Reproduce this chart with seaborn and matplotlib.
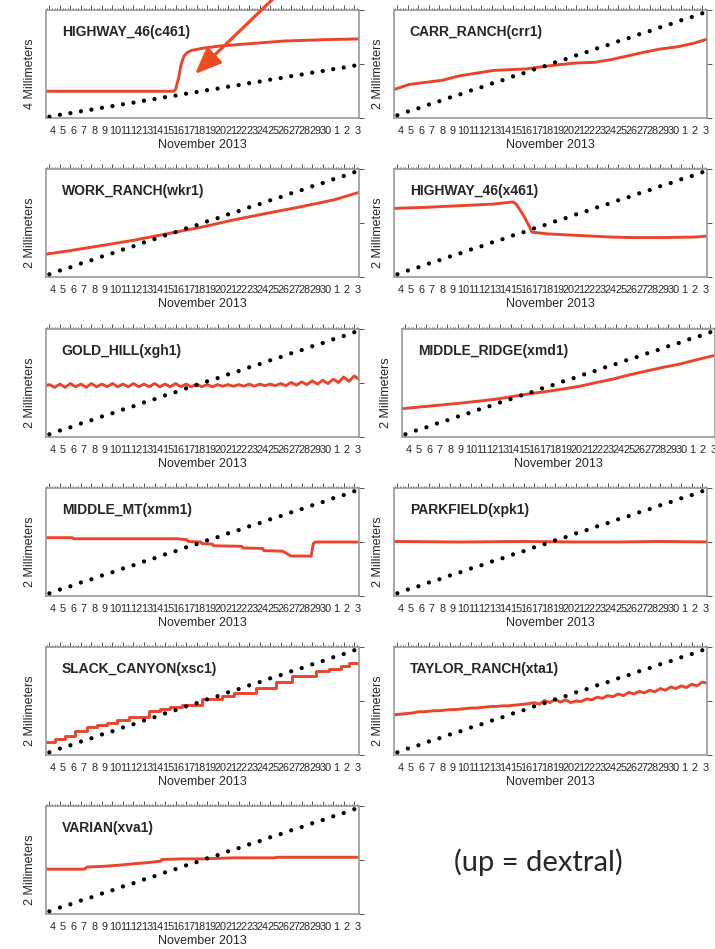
import matplotlib
matplotlib.use('Agg')
import matplotlib.pyplot as plt
import matplotlib.transforms as mtransforms
from matplotlib.patches import FancyArrowPatch
from matplotlib.ticker import FixedLocator, MultipleLocator
import seaborn as sns

# estilo
sns.set_style('white')
plt.rcParams['font.family'] = ['Liberation Sans', 'DejaVu Sans']

RED = '#eb442c'
ARROW = '#f04a22'

# dias depois de 4 nov 2013 (pontos da taxa de referencia, em mm)
ref_days = [0, 1, 2, 3, 4, 5, 6, 7, 8, 9, 10, 11, 12, 13, 14,
            15, 16, 17, 18, 19, 20, 21, 22, 23, 24, 25, 26, 27, 28, 29]
ref_mm = [0.05, 0.12, 0.18, 0.25, 0.31, 0.38, 0.44, 0.51, 0.57, 0.64,
          0.70, 0.77, 0.83, 0.90, 0.96, 1.03, 1.09, 1.16, 1.22, 1.29,
          1.35, 1.42, 1.48, 1.55, 1.61, 1.68, 1.74, 1.81, 1.87, 1.94]
day_labels = ['4', '5', '6', '7', '8', '9', '10', '11', '12', '13', '14',
              '15', '16', '17', '18', '19', '20', '21', '22', '23', '24',
              '25', '26', '27', '28', '29', '30', '1', '2', '3']

half_days = [-0.5, 0.0, 0.5, 1.0, 1.5, 2.0, 2.5, 3.0, 3.5, 4.0, 4.5, 5.0, 5.5,
             6.0, 6.5, 7.0, 7.5, 8.0, 8.5, 9.0, 9.5, 10.0, 10.5, 11.0, 11.5,
             12.0, 12.5, 13.0, 13.5, 14.0, 14.5, 15.0, 15.5, 16.0, 16.5,
             17.0, 17.5, 18.0, 18.5, 19.0, 19.5, 20.0, 20.5, 21.0, 21.5,
             22.0, 22.5, 23.0, 23.5, 24.0, 24.5, 25.0, 25.5, 26.0, 26.5,
             27.0, 27.5, 28.0, 28.5, 29.0, 29.5]

# series de cada creepmeter (dias, mm)
c461_t = [-0.4, 11.8, 12.0, 12.3, 12.5, 12.8, 13.1, 13.5, 14.5, 16.3, 19.0, 22.3, 26.0, 29.5]
c461_mm = [0.99, 0.99, 1.05, 1.50, 1.93, 2.29, 2.42, 2.50, 2.58, 2.67, 2.75, 2.85, 2.90, 2.93]

crr1_t = [-0.4, 1.1, 4.3, 5.9, 9.1, 12.3, 14.2, 15.5, 17.1, 18.7, 20.3, 21.9, 23.5, 25.1, 26.7, 28.3, 29.6]
crr1_mm = [0.52, 0.62, 0.70, 0.78, 0.88, 0.91, 0.96, 0.99, 1.02, 1.03, 1.08, 1.15, 1.22, 1.28, 1.32, 1.39, 1.47]

wkr1_t = [-0.4, 1.7, 4.9, 8.0, 9.6, 12.5, 14.4, 17.6, 20.7, 23.9, 27.1, 29.5]
wkr1_mm = [0.42, 0.48, 0.58, 0.68, 0.74, 0.85, 0.92, 1.06, 1.18, 1.30, 1.43, 1.57]

x461_t = [-0.4, 2.7, 5.9, 9.1, 11.0, 11.3, 12.0, 12.6, 12.8, 14.2, 17.1, 20.3, 22.5, 25.1, 28.3, 29.6]
x461_mm = [1.27, 1.29, 1.32, 1.35, 1.39, 1.35, 1.14, 0.92, 0.83, 0.80, 0.77, 0.74, 0.73, 0.73, 0.74, 0.76]

xgh1_mm = [0.94,
           0.97, 0.92, 0.98, 0.92, 0.99, 0.93, 0.98, 0.92, 0.99, 0.93,
           0.98, 0.93, 0.99, 0.93, 0.98, 0.93, 0.99, 0.93, 0.98, 0.93,
           0.99, 0.93, 0.98, 0.93, 0.99, 0.93, 0.98, 0.93, 0.98, 0.93,
           0.97, 0.93, 0.97, 0.94, 0.97, 0.94, 0.97, 0.94, 0.98, 0.94,
           0.98, 0.95, 0.98, 0.95, 0.99, 0.95, 1.01, 0.96, 1.02, 0.97,
           1.04, 0.98, 1.05, 0.99, 1.07, 1.01, 1.11, 1.03, 1.13, 1.06]

xmd1_t = [-0.4, 0.0, 5.4, 8.6, 11.8, 13.7, 15.0, 16.6, 18.2, 19.7, 21.3, 22.9, 24.5, 26.1, 27.7, 29.6]
xmd1_mm = [0.52, 0.53, 0.63, 0.70, 0.80, 0.85, 0.89, 0.94, 1.01, 1.07, 1.15, 1.22, 1.29, 1.35, 1.43, 1.52]

xmm1_t = [-0.4, 2.2, 2.3, 12.2, 13.1, 13.2, 14.4, 14.5, 15.5, 15.6, 18.3, 18.4,
          20.3, 20.4, 22.2, 22.8, 23.0, 24.9, 25.1, 25.3, 29.6]
xmm1_mm = [1.08, 1.08, 1.06, 1.06, 1.04, 1.01, 1.00, 0.97, 0.96, 0.93, 0.92, 0.89,
           0.88, 0.84, 0.83, 0.76, 0.74, 0.74, 0.97, 1.00, 1.00]

xpk1_t = [-0.4, 6.0, 12.0, 17.0, 21.0, 25.0, 29.6]
xpk1_mm = [1.01, 1.00, 1.01, 1.00, 1.00, 1.01, 1.00]

xsc1_t = [-0.4, 0.57, 1.52, 2.48, 3.59, 4.54, 5.49, 6.44, 7.56, 9.46, 10.57, 11.52,
          12.63, 14.54, 16.44, 17.56, 19.62, 21.52, 23.11, 25.33, 26.60, 27.71, 28.51, 29.6]
xsc1_mm = [0.24, 0.30, 0.36, 0.44, 0.52, 0.55, 0.59, 0.65, 0.70, 0.82, 0.86, 0.89,
           0.93, 1.03, 1.10, 1.14, 1.24, 1.36, 1.47, 1.56, 1.59, 1.64, 1.70, 1.70]

xta1_mm = [0.74,
           0.75, 0.76, 0.77, 0.78, 0.80, 0.80, 0.81, 0.82, 0.82, 0.83,
           0.84, 0.84, 0.85, 0.86, 0.87, 0.87, 0.88, 0.89, 0.90, 0.90,
           0.91, 0.91, 0.92, 0.93, 0.94, 0.95, 0.97, 0.94, 1.01, 0.97,
           1.03, 0.98, 1.02, 0.97, 1.00, 0.99, 1.04, 1.02, 1.07, 1.05,
           1.10, 1.08, 1.13, 1.10, 1.16, 1.13, 1.18, 1.15, 1.20, 1.17,
           1.23, 1.20, 1.26, 1.23, 1.28, 1.25, 1.31, 1.28, 1.35, 1.33]

xva1_t = [-0.4, 3.3, 3.6, 4.9, 6.4, 8.0, 9.3, 10.6, 10.7, 12.5, 12.8, 14.4, 17.6, 21.4, 21.7, 29.6]
xva1_mm = [0.83, 0.83, 0.87, 0.88, 0.90, 0.93, 0.95, 0.98, 1.01, 1.02, 1.02, 1.02, 1.04, 1.04, 1.05, 1.05]

# (titulo, tempos, valores, escala mm, linha, coluna, degraus?)
panels = [
    ('HIGHWAY_46(c461)', c461_t, c461_mm, 4, 0, 0, False),
    ('CARR_RANCH(crr1)', crr1_t, crr1_mm, 2, 0, 1, False),
    ('WORK_RANCH(wkr1)', wkr1_t, wkr1_mm, 2, 1, 0, False),
    ('HIGHWAY_46(x461)', x461_t, x461_mm, 2, 1, 1, False),
    ('GOLD_HILL(xgh1)', half_days, xgh1_mm, 2, 2, 0, False),
    ('MIDDLE_RIDGE(xmd1)', xmd1_t, xmd1_mm, 2, 2, 1, False),
    ('MIDDLE_MT(xmm1)', xmm1_t, xmm1_mm, 2, 3, 0, False),
    ('PARKFIELD(xpk1)', xpk1_t, xpk1_mm, 2, 3, 1, False),
    ('SLACK_CANYON(xsc1)', xsc1_t, xsc1_mm, 2, 4, 0, True),
    ('TAYLOR_RANCH(xta1)', half_days, xta1_mm, 2, 4, 1, False),
    ('VARIAN(xva1)', xva1_t, xva1_mm, 2, 5, 0, False),
]

W, H = 715, 949
row_tops = [10, 169, 329, 488, 647, 806]
col_lefts = [46, 394]
ax_w, ax_h = 313, 108

fig = plt.figure(figsize=(W / 100, H / 100), dpi=100)

for name, t, v, scale, row, col, steps in panels:
    left = col_lefts[col] + (8 if name.startswith('MIDDLE_RIDGE') else 0)
    ax = fig.add_axes([left / W, 1 - (row_tops[row] + ax_h) / H, ax_w / W, ax_h / H])

    sns.lineplot(x=t, y=v, ax=ax, color=RED, linewidth=2.1, estimator=None,
                 sort=False, drawstyle='steps-post' if steps else 'default')
    sns.scatterplot(x=ref_days, y=ref_mm, ax=ax, color='black', s=9,
                    edgecolor='none', zorder=3)

    ax.set_xlim(-0.32, 29.45)
    ax.set_ylim(0, scale)

    ax.xaxis.set_major_locator(FixedLocator(ref_days))
    ax.xaxis.set_minor_locator(MultipleLocator(0.25))
    ax.set_xticklabels(day_labels)
    ax.set_yticks([0, scale / 2, scale])
    ax.set_yticklabels([])
    ax.tick_params(axis='both', which='both', direction='out', top=True, right=True,
                   color='#333333', width=0.6, labelsize=7.8, pad=2.5)
    ax.tick_params(which='major', length=3.5)
    ax.tick_params(which='minor', length=1.8)
    # rotulos dos dias um pouco para a direita
    for lab in ax.get_xticklabels():
        lab.set_transform(lab.get_transform() +
                          mtransforms.ScaledTranslation(3 / 100, 0, fig.dpi_scale_trans))

    for sp in ax.spines.values():
        sp.set_color('#9a9a9a')
        sp.set_linewidth(1.2)

    ax.set_xlabel('November 2013', fontsize=9)
    ax.set_ylabel(f'{scale} Millimeters', fontsize=9)
    ax.xaxis.set_label_coords(0.5, -0.19)
    ax.yaxis.set_label_coords(-0.032, 0.41)

    ax.text(0.05, 0.80, name, transform=ax.transAxes, fontsize=10,
            fontweight='bold', va='center', ha='left')

# texto da legenda
fig.text(538 / W, 1 - 862 / H, '(up = dextral)', fontsize=21, family=['Lato', 'DejaVu Sans'],
         ha='center', va='center')

# seta apontando para o degrau de c461
fig.add_artist(FancyArrowPatch(
    (276 / W, 1 + 4 / H), (195 / W, 1 - 74 / H), transform=fig.transFigure,
    arrowstyle='-|>,head_length=0.8,head_width=0.33', mutation_scale=20,
    color=ARROW, linewidth=2.3, shrinkA=0, shrinkB=0))

plt.savefig('out.png', dpi=100)
plt.close()
print('salvo em out.png')
